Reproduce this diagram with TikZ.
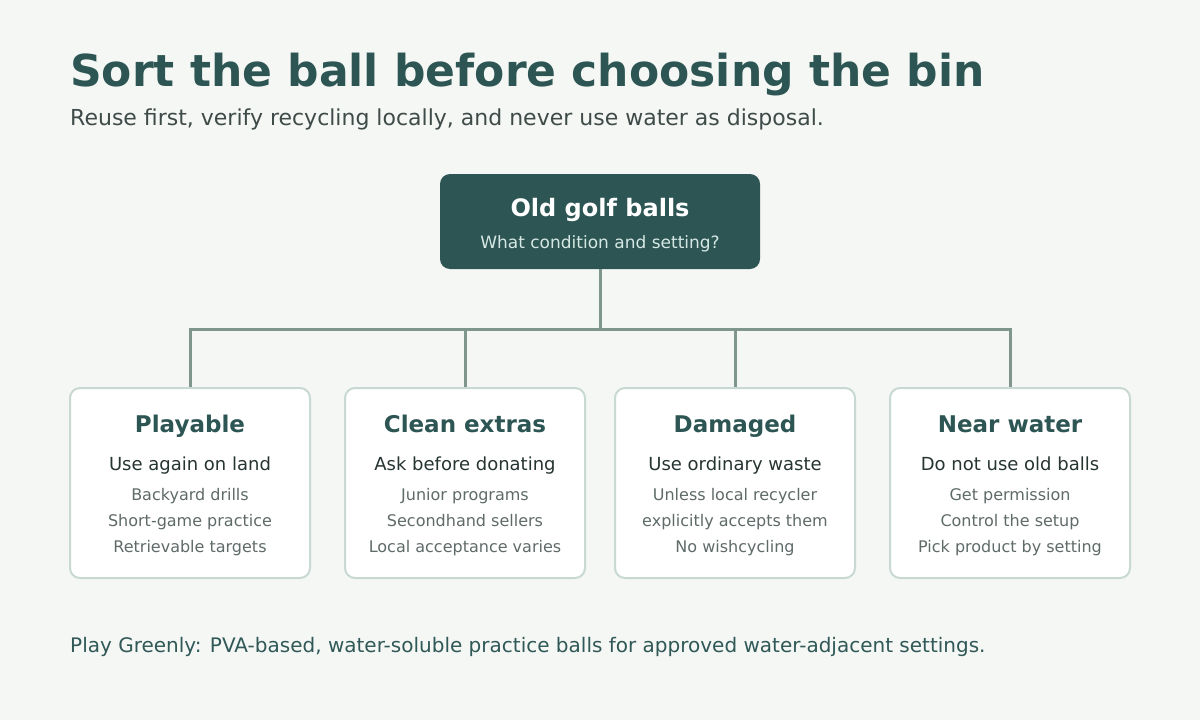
\documentclass[tikz,border=0pt]{standalone}
\usepackage{fontspec}
\setmainfont{DejaVu Sans}
\definecolor{bg}{HTML}{F5F7F4}
\definecolor{deep}{HTML}{2C5553}
\definecolor{pale}{HTML}{D6E8E4}
\definecolor{line}{HTML}{7F968C}
\definecolor{edge}{HTML}{C8D8D2}
\definecolor{ink}{HTML}{263432}
\definecolor{muted}{HTML}{5F6B69}
\definecolor{sub}{HTML}{3E4B49}
\definecolor{foot}{HTML}{2F5857}
\begin{document}
\begin{tikzpicture}[x=1pt,y=-1pt,
  card/.style={draw=edge,line width=2pt,fill=white,rounded corners=10pt},
  rootbox/.style={fill=deep,rounded corners=10pt},
  link/.style={draw=line,line width=3pt},
  ctitle/.style={anchor=base,text=deep,font=\fontsize{23}{27}\selectfont\bfseries},
  chead/.style={anchor=base,text=ink,font=\fontsize{18}{21}\selectfont},
  citem/.style={anchor=base,text=muted,font=\fontsize{16}{19}\selectfont}]
\useasboundingbox[fill=bg] (0,0) rectangle (1200,720);
\node[anchor=base west,text=deep,font=\fontsize{44}{50}\selectfont\bfseries,inner sep=0] (title) at (70,86) {Sort the ball before choosing the bin};
\node[anchor=base west,text=sub,font=\fontsize{22}{26}\selectfont,inner sep=0] (subtitle) at (70,125) {Reuse first, verify recycling locally, and never use water as disposal.};
% root
\path[rootbox] (440,174) rectangle (760,269);
\node[inner sep=0,minimum width=320pt,minimum height=95pt] (root) at (600,221.5) {};
\node[anchor=base,text=white,font=\fontsize{24}{28}\selectfont\bfseries] at (600,216) {Old golf balls};
\node[anchor=base,text=pale,font=\fontsize{17}{20}\selectfont] at (600,248) {What condition and setting?};
% connectors
\coordinate (hub) at (600,329);
\coordinate (hl) at (190,329);
\coordinate (hr) at (1010,329);
\foreach \n/\cx in {a/190,b/465,c/735,d/1010}{
  \node[inner sep=0,minimum width=240pt,minimum height=190pt] (\n) at (\cx,483) {};
  \coordinate (\n h) at (\cx,329);
}
\draw[link] (root.south) -- (hub);
\draw[link,line cap=rect] (hl) -- (hr);
\foreach \n in {a,b,c,d}{ \draw[link] (\n h) -- (\n.north); }
% cards
\foreach \n/\cx/\t/\h/\i/\j/\k in {
  a/190/Playable/Use again on land/Backyard drills/Short-game practice/Retrievable targets,
  b/465/Clean extras/Ask before donating/Junior programs/Secondhand sellers/Local acceptance varies,
  c/735/Damaged/Use ordinary waste/Unless local recycler/explicitly accepts them/No wishcycling,
  d/1010/Near water/Do not use old balls/Get permission/Control the setup/Pick product by setting}{
  \path[card] (\cx-120,388) rectangle (\cx+120,578);
  \node[ctitle] at (\cx,432) {\t};
  \node[chead] at (\cx,470) {\h};
  \node[citem] at (\cx,500) {\i};
  \node[citem] at (\cx,526) {\j};
  \node[citem] at (\cx,552) {\k};
}
\node[anchor=base west,text=foot,font=\fontsize{20}{24}\selectfont,inner sep=0] (footer) at (70,652) {Play Greenly: PVA-based, water-soluble practice balls for approved water-adjacent settings.};
\end{tikzpicture}
\end{document}
